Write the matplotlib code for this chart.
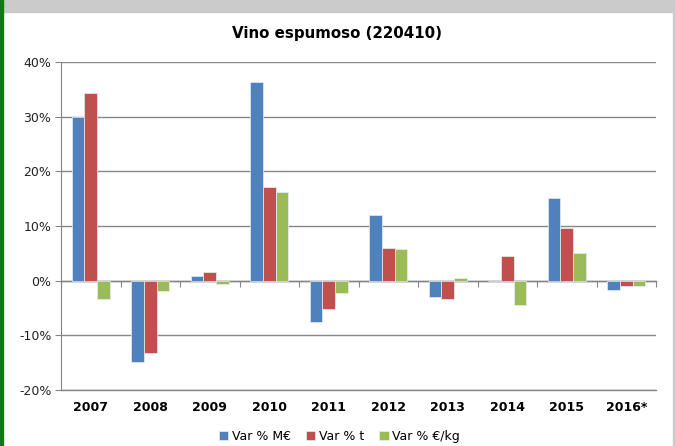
import numpy as np
import matplotlib
matplotlib.use('Agg')
import matplotlib.pyplot as plt
from matplotlib.patches import Rectangle
from matplotlib.ticker import FuncFormatter

plt.rcParams['font.family'] = ['DejaVu Sans']

# datos
anios = ['2007', '2008', '2009', '2010', '2011', '2012', '2013', '2014', '2015', '2016*']
var_meur = [30.0, -14.8, 0.8, 36.4, -7.6, 12.1, -3.0, 0.0, 15.2, -1.8]
var_t = [34.4, -13.2, 1.5, 17.2, -5.2, 6.0, -3.4, 4.6, 9.6, -0.9]
var_eurkg = [-3.4, -1.9, -0.7, 16.2, -2.3, 5.7, 0.4, -4.5, 5.0, -1.0]
series = ['Var % M€', 'Var % t', 'Var % €/kg']
colores = ['#4F81BD', '#C0504D', '#9BBB59']

fig = plt.figure(figsize=(6.75, 4.46), dpi=100)
ax = fig.add_axes([0.0904, 0.1256, 0.8815, 0.7354])

x = np.arange(len(anios))
w = 0.215
for i, (vals, lab, col) in enumerate(zip([var_meur, var_t, var_eurkg], series, colores)):
    ax.bar(x + (i - 1) * w, vals, width=w, color=col, label=lab,
           edgecolor='#e8eef6', linewidth=0.5, zorder=3)

ax.set_xlim(-0.5, len(anios) - 0.5)
ax.set_ylim(-20, 40)
ax.set_yticks(np.arange(-20, 41, 10))
ax.yaxis.set_major_formatter(FuncFormatter(lambda v, p: '%d%%' % v))
ax.yaxis.grid(True, color='#868686', linewidth=1.0, zorder=0)
ax.tick_params(axis='y', labelsize=9, length=4, color='#868686', labelcolor='#222222', pad=3)

ax.set_xticks(x)
ax.set_xticklabels(anios, fontsize=9, fontweight='bold')
ax.tick_params(axis='x', length=0, pad=8)

for s in ['top', 'right']:
    ax.spines[s].set_visible(False)
ax.spines['left'].set_color('#868686')
ax.spines['bottom'].set_color('#868686')
ax.spines['bottom'].set_linewidth(1.0)

# eje del cero con marcas entre categorias
sec = ax.secondary_xaxis(20 / 60)
sec.set_xticks(np.arange(len(anios) + 1) - 0.5)
sec.set_xticklabels([])
sec.tick_params(length=4, color='#868686', direction='out')
sec.spines['bottom'].set_color('#868686')
sec.spines['bottom'].set_linewidth(1.0)

fig.text(0.5, 0.924, 'Vino espumoso (220410)', ha='center', va='center',
         fontsize=10.8, fontweight='bold')

fig.legend(loc='center', bbox_to_anchor=(0.503, 0.022), ncol=3, frameon=False,
           fontsize=9, handlelength=0.75, handleheight=0.75, handletextpad=0.3,
           columnspacing=1.2)

# marco
fig.patches.append(Rectangle((0, 1 - 12 / 446), 1, 12 / 446, transform=fig.transFigure,
                             color='#cbcbcb', zorder=0))
fig.patches.append(Rectangle((0, 0), 3 / 675, 1, transform=fig.transFigure,
                             color='#137a13', zorder=1))
fig.patches.append(Rectangle((673 / 675, 0), 2 / 675, 1 - 12 / 446, transform=fig.transFigure,
                             color='#cbcbcb', zorder=0))

fig.savefig('out.png', dpi=100)
